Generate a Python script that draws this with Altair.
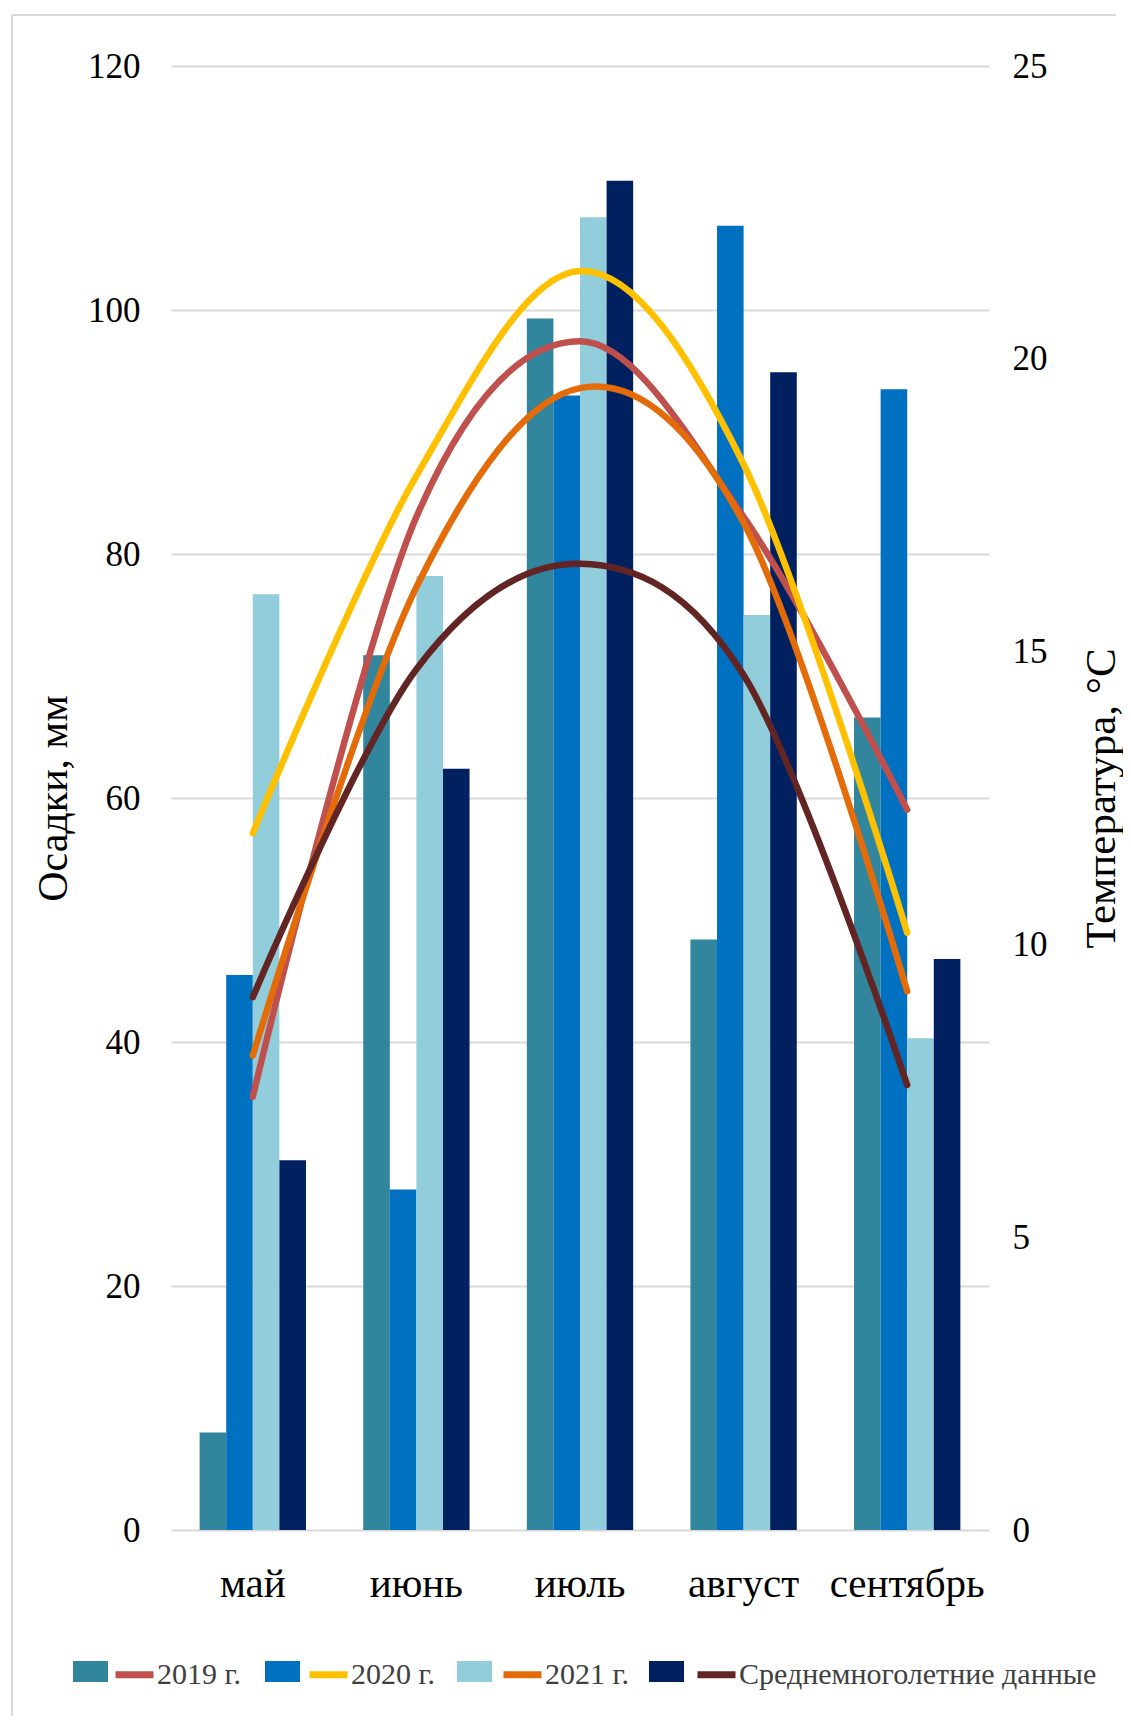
import altair as alt
import pandas as pd

months = ["май", "июнь", "июль", "август", "сентябрь"]
series = ["2019 г.", "2020 г.", "2021 г.", "Среднемноголетние данные"]

precip_2019 = [8.0, 71.7, 99.3, 48.4, 66.6]
precip_2020 = [45.5, 27.9, 93.0, 106.9, 93.5]
precip_2021 = [76.7, 78.2, 107.6, 75.0, 40.3]
precip_avg = [30.3, 62.4, 110.6, 94.9, 46.8]

temp_2019 = [7.4, 17.3, 20.3, 17.3, 12.3]
temp_2020 = [11.9, 18.0, 21.5, 18.2, 10.2]
temp_2021 = [8.1, 16.1, 19.5, 17.2, 9.2]
temp_avg = [9.1, 14.7, 16.5, 14.6, 7.6]

left_ticks = [0, 20, 40, 60, 80, 100, 120]
right_ticks = [0, 5, 10, 15, 20, 25]

bar_colors = ["#31859C", "#0070C0", "#92CDDC", "#002060"]
line_colors = ["#C0504D", "#FFC000", "#E36C09", "#632523"]

precip_all = [precip_2019, precip_2020, precip_2021, precip_avg]
temp_all = [temp_2019, temp_2020, temp_2021, temp_avg]

rows = []
for s, p, t in zip(series, precip_all, temp_all):
    for m, pv, tv in zip(months, p, t):
        rows.append({"month": m, "series": s, "precip": pv, "temp": tv})
df = pd.DataFrame(rows)

FONT = "Liberation Serif"
GRID = "#d9d9d9"

x_enc = alt.X(
    "month:N", sort=months,
    scale=alt.Scale(paddingInner=0.35, paddingOuter=0.175),
    axis=alt.Axis(title=None, labelFont=FONT, labelFontSize=41, labelColor="black",
                  labelPadding=34, ticks=False, tickSize=0, domain=False, grid=False,
                  labelAngle=0),
)

bars = alt.Chart(df).mark_bar().encode(
    x=x_enc,
    xOffset=alt.XOffset("series:N", sort=series,
                        scale=alt.Scale(paddingInner=0, paddingOuter=0)),
    y=alt.Y("precip:Q", stack=None, scale=alt.Scale(domain=[0, 120], nice=False),
            axis=alt.Axis(title="Осадки, мм", orient="left", values=left_ticks,
                          grid=True, gridColor=GRID, gridWidth=2, domain=False,
                          ticks=False, tickSize=0, labelFont=FONT, labelFontSize=35,
                          labelColor="black", labelPadding=31, titleFont=FONT,
                          titleFontSize=42, titleFontWeight="normal", titleColor="black",
                          titlePadding=12)),
    color=alt.Color("series:N", sort=series,
                    scale=alt.Scale(domain=series, range=bar_colors),
                    legend=alt.Legend(title=None, orient="none", legendX=-98, legendY=1588,
                                      direction="horizontal",
                                      symbolType="M-1,-0.6H1V0.6H-1Z",
                                      symbolSize=1225, symbolStrokeWidth=0,
                                      labelExpr="''", labelOffset=0,
                                      columnPadding=157)),
)

lines = alt.Chart(df).mark_line(interpolate="cardinal", strokeWidth=6.5,
                                strokeCap="round").encode(
    x=alt.X("month:N", sort=months),
    y=alt.Y("temp:Q", scale=alt.Scale(domain=[0, 25], nice=False),
            axis=alt.Axis(title="Температура, °С", orient="right", values=right_ticks,
                          grid=False, domain=False, ticks=False, tickSize=0,
                          labelFont=FONT, labelFontSize=35, labelColor="black",
                          labelPadding=23, titleFont=FONT, titleFontSize=43,
                          titleFontWeight="normal", titleColor="black",
                          titleAngle=270, titlePadding=76)),
    color=alt.Color("series:N", sort=series,
                    scale=alt.Scale(domain=series, range=line_colors),
                    legend=alt.Legend(title=None, orient="none", legendX=-59, legendY=1586,
                                      direction="horizontal", symbolType="stroke",
                                      symbolSize=1444, symbolStrokeWidth=7,
                                      labelFont=FONT, labelFontSize=30,
                                      labelColor="#404040", labelOffset=0,
                                      labelLimit=600, columnPadding=54)),
)

frame_df = pd.DataFrame({"k": [0]})
frame_top = alt.Chart(frame_df).mark_rule(color=GRID, strokeWidth=2).encode(
    x=alt.value(-159), x2=alt.value(945), y=alt.value(-51))
frame_left = alt.Chart(frame_df).mark_rule(color=GRID, strokeWidth=2).encode(
    x=alt.value(-159), y=alt.value(-51), y2=alt.value(1650))

chart = alt.layer(frame_top, frame_left, bars, lines).resolve_scale(
    y="independent", color="independent"
).properties(
    width=818, height=1464,
    padding={"left": 3, "top": 6, "right": 0, "bottom": 0},
).configure_view(stroke=None)

chart.save("out.html", embed_options={"renderer": "svg", "actions": False})
